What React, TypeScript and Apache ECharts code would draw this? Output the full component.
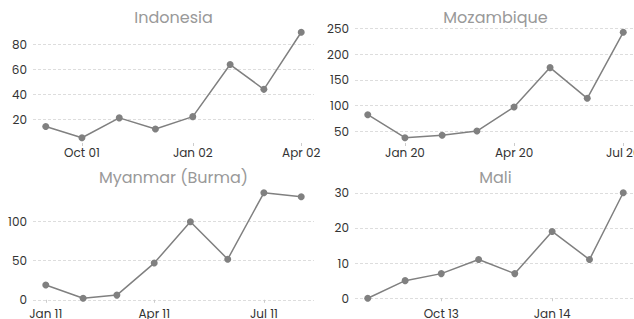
import React, { useEffect, useRef } from "react";
import * as echarts from "echarts";

// ---- data ----
const panelTitles = ["Indonesia", "Mozambique", "Myanmar (Burma)", "Mali"];

const indonesiaDates = ["2001-09-01", "2001-10-01", "2001-11-01", "2001-12-01", "2002-01-01", "2002-02-01", "2002-03-01", "2002-04-01"];
const indonesiaValues = [14, 5, 21, 12, 22, 64, 44, 90];
const indonesiaYTicks = [20, 40, 60, 80];
const indonesiaXTicks = ["2001-10-01", "2002-01-01", "2002-04-01"];

const mozambiqueDates = ["2019-12-01", "2020-01-01", "2020-02-01", "2020-03-01", "2020-04-01", "2020-05-01", "2020-06-01", "2020-07-01"];
const mozambiqueValues = [82, 37, 42, 50, 97, 174, 114, 243];
const mozambiqueYTicks = [50, 100, 150, 200, 250];
const mozambiqueXTicks = ["2020-01-01", "2020-04-01", "2020-07-01"];

const myanmarDates = ["2011-01-01", "2011-02-01", "2011-03-01", "2011-04-01", "2011-05-01", "2011-06-01", "2011-07-01", "2011-08-01"];
const myanmarValues = [19, 2, 6, 47, 100, 52, 137, 132];
const myanmarYTicks = [0, 50, 100];
const myanmarXTicks = ["2011-01-01", "2011-04-01", "2011-07-01"];

const maliDates = ["2013-08-01", "2013-09-01", "2013-10-01", "2013-11-01", "2013-12-01", "2014-01-01", "2014-02-01", "2014-03-01"];
const maliValues = [0, 5, 7, 11, 7, 19, 11, 30];
const maliYTicks = [0, 10, 20, 30];
const maliXTicks = ["2013-10-01", "2014-01-01"];

const MONTHS = ["Jan", "Feb", "Mar", "Apr", "May", "Jun", "Jul", "Aug", "Sep", "Oct", "Nov", "Dec"];
const FONT = "Poppins, 'Open Sans', sans-serif";

function ts(d: string): number {
  const [y, m, day] = d.split("-").map(Number);
  return Date.UTC(y, m - 1, day);
}
function fmt(v: number): string {
  const d = new Date(v);
  return MONTHS[d.getUTCMonth()] + " " + String(d.getUTCFullYear() % 100).padStart(2, "0");
}
function padded(vals: number[], frac = 0.05): [number, number] {
  const lo = Math.min(...vals);
  const hi = Math.max(...vals);
  const p = (hi - lo) * frac;
  return [lo - p, hi + p];
}

const panels = [
  { dates: indonesiaDates, values: indonesiaValues, yTicks: indonesiaYTicks, xTicks: indonesiaXTicks },
  { dates: mozambiqueDates, values: mozambiqueValues, yTicks: mozambiqueYTicks, xTicks: mozambiqueXTicks },
  { dates: myanmarDates, values: myanmarValues, yTicks: myanmarYTicks, xTicks: myanmarXTicks },
  { dates: maliDates, values: maliValues, yTicks: maliYTicks, xTicks: maliXTicks },
];

const gridBoxes = [
  { left: 33, top: 27, width: 281, height: 116 },
  { left: 355, top: 27, width: 281, height: 116 },
  { left: 33, top: 187.5, width: 281, height: 116 },
  { left: 355, top: 187.5, width: 281, height: 116 },
];

export default function App() {
  const ref = useRef<HTMLDivElement>(null);
  useEffect(() => {
    document.body.style.margin = "0";
    if (!ref.current) return;
    const chart = echarts.init(ref.current, undefined, { renderer: "svg" });

    const grid = gridBoxes.map((g) => ({ ...g, containLabel: false, outerBoundsMode: "none" }));
    const xAxis = panels.map((p, i) => {
      const xs = p.dates.map(ts);
      const [mn, mx] = padded(xs);
      const ticks = p.xTicks.map(ts);
      return {
        type: "value",
        gridIndex: i,
        min: mn,
        max: mx,
        axisLine: { show: false },
        axisTick: { show: true, length: 3, lineStyle: { color: "#ccc" }, customValues: ticks },
        axisLabel: {
          customValues: ticks,
          formatter: (v: number) => fmt(v),
          color: "#333",
          fontFamily: FONT,
          fontSize: 12,
          margin: 3.5,
          showMinLabel: true,
          showMaxLabel: true,
          hideOverlap: false,
        },
        splitLine: { show: false },
      };
    });
    const yAxis = panels.map((p, i) => {
      const [mn, mx] = padded(p.values);
      return {
        type: "value",
        gridIndex: i,
        min: mn,
        max: mx,
        axisLine: { show: false },
        axisTick: { show: false, customValues: p.yTicks },
        axisLabel: {
          customValues: p.yTicks,
          color: "#333",
          fontFamily: FONT,
          fontSize: 12,
          margin: 6,
        },
        splitLine: { show: true, lineStyle: { color: "#ddd", type: [3, 2], width: 1 } },
      };
    });
    const series = panels.map((p, i) => ({
      type: "line",
      xAxisIndex: i,
      yAxisIndex: i,
      data: p.dates.map((d, j) => [ts(d), p.values[j]]),
      symbol: "circle",
      symbolSize: 7,
      lineStyle: { color: "#808080", width: 1.5 },
      itemStyle: { color: "#808080" },
      showSymbol: true,
    }));
    const graphic = panelTitles.map((t, i) => ({
      type: "text",
      x: gridBoxes[i].left + gridBoxes[i].width / 2,
      y: i < 2 ? 17 : 177.5,
      style: {
        text: t,
        fill: "#999",
        font: `16px ${FONT}`,
        textAlign: "center",
        textVerticalAlign: "middle",
      },
    }));

    chart.setOption({
      animation: false,
      grid,
      xAxis,
      yAxis,
      series,
      graphic,
    });
    return () => chart.dispose();
  }, []);
  return <div ref={ref} style={{ width: 634, height: 319 }} />;
}
